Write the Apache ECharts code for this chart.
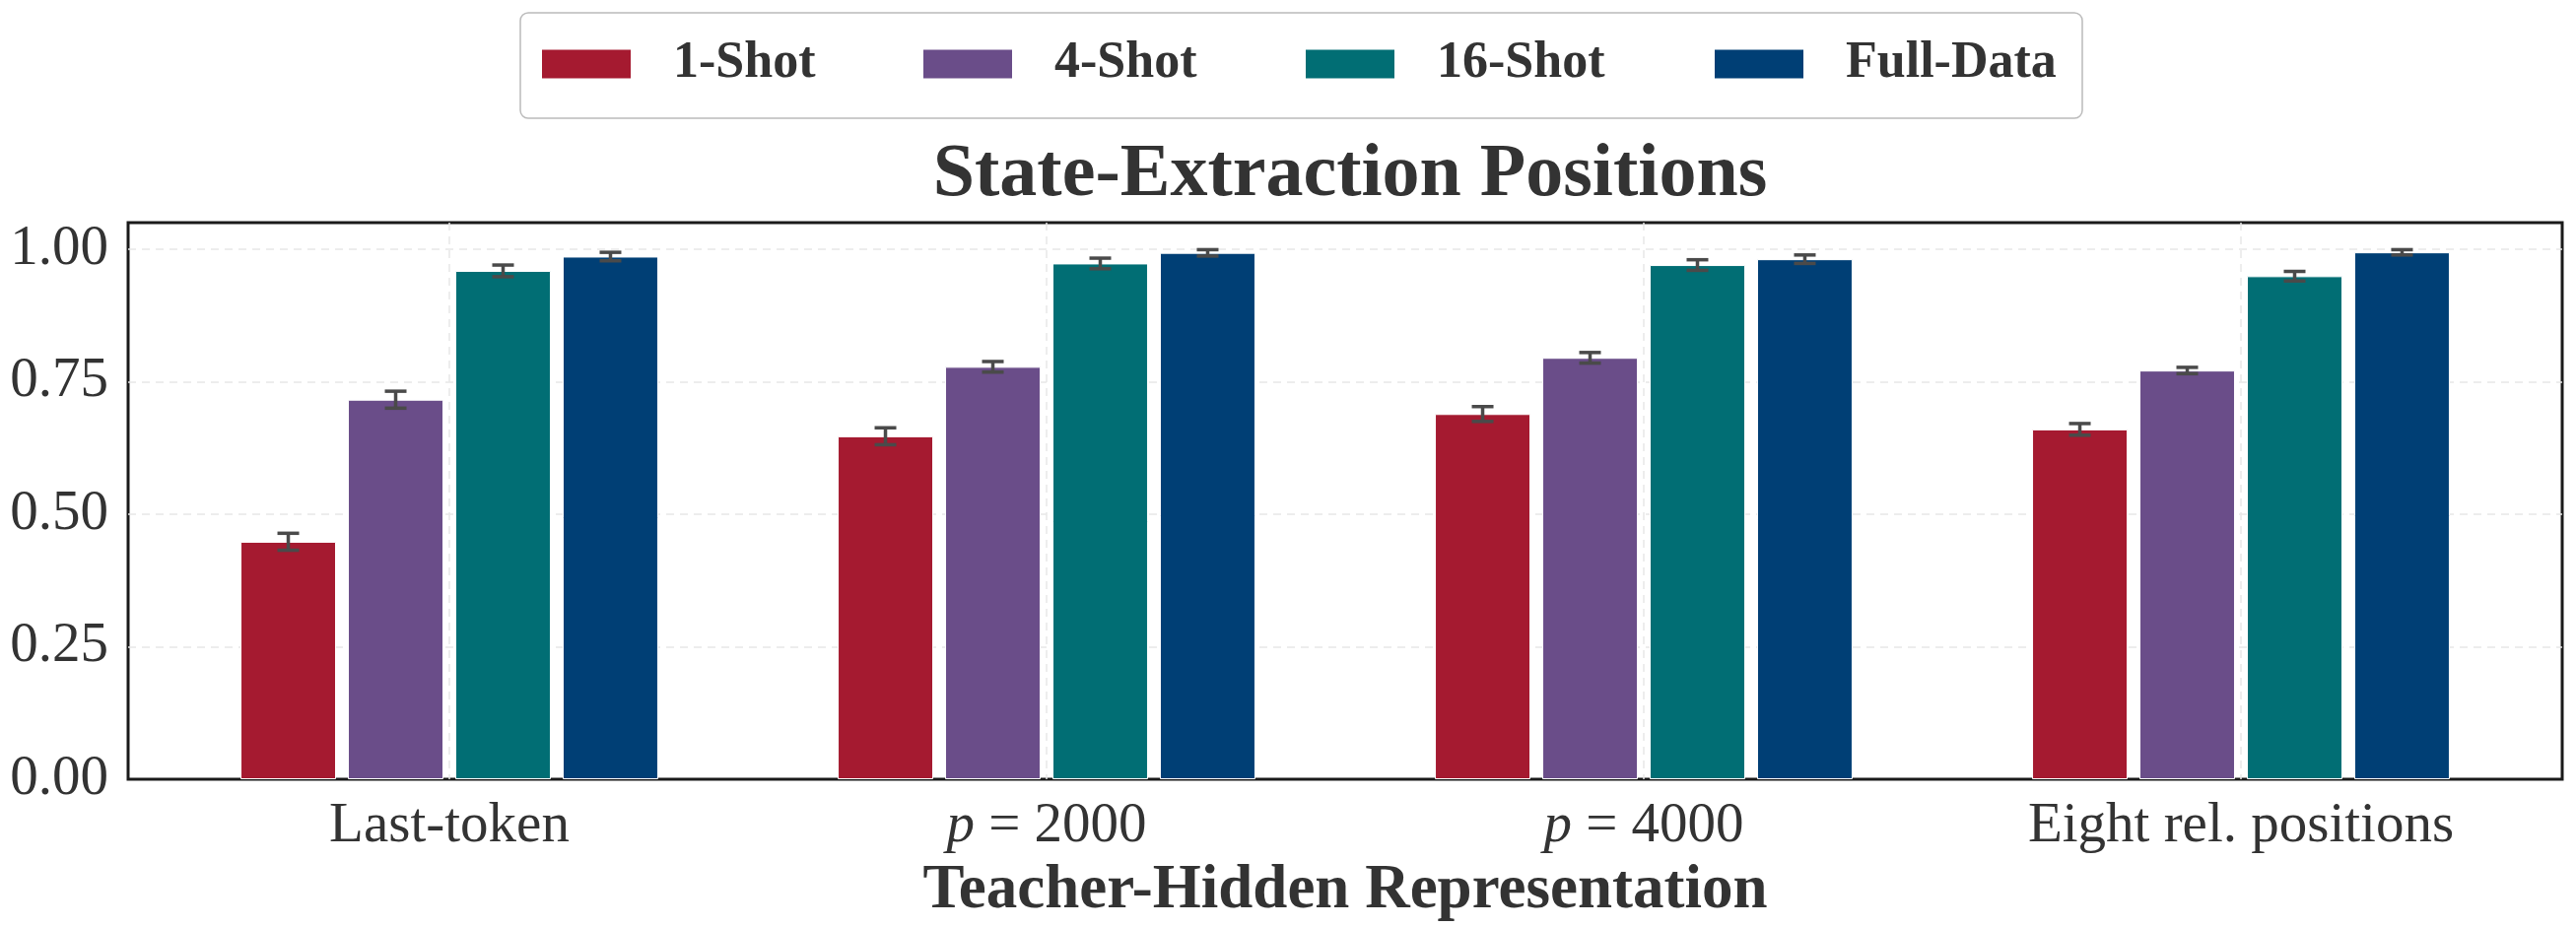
<!DOCTYPE html>
<html>
<head>
<meta charset="utf-8">
<script src="https://cdn.jsdelivr.net/npm/echarts@6/dist/echarts.min.js"></script>
<style>html,body{margin:0;padding:0;background:#fff;}#c{width:2614px;height:941px;}</style>
</head>
<body>
<div id="c"></div>
<script>
const categories = ['Last-token', 'p = 2000', 'p = 4000', 'Eight rel. positions'];
const seriesNames = ['1-Shot', '4-Shot', '16-Shot', 'Full-Data'];
const oneShot = [0.448, 0.647, 0.689, 0.660];
const oneShotErr = [0.016, 0.016, 0.014, 0.011];
const fourShot = [0.716, 0.778, 0.795, 0.771];
const fourShotErr = [0.016, 0.010, 0.010, 0.006];
const sixteenShot = [0.959, 0.973, 0.970, 0.949];
const sixteenShotErr = [0.011, 0.010, 0.010, 0.009];
const fullData = [0.986, 0.993, 0.981, 0.994];
const fullDataErr = [0.008, 0.006, 0.008, 0.005];
const yTicks = [0, 0.25, 0.5, 0.75, 1.0];

const values = [oneShot, fourShot, sixteenShot, fullData];
const errors = [oneShotErr, fourShotErr, sixteenShotErr, fullDataErr];
const colors = ['#A51A30', '#6A4D89', '#016E74', '#003F75'];
const FONT = '"Liberation Serif", "Times New Roman", serif';
const BAR_FRAC = 0.16, GAP_FRAC = 0.124;

const chart = echarts.init(document.getElementById('c'), null, {renderer: 'canvas'});

const barSeries = seriesNames.map((n, i) => ({
  name: n, type: 'bar', xAxisIndex: 0, yAxisIndex: 0,
  data: values[i],
  barWidth: (BAR_FRAC * 100) + '%', barGap: (GAP_FRAC * 100) + '%',
  itemStyle: {color: colors[i], borderColor: '#ffffff', borderWidth: 1},
  emphasis: {disabled: true}, z: 2
}));

const errSeries = seriesNames.map((n, si) => ({
  type: 'custom', xAxisIndex: 0, yAxisIndex: 0, z: 5, silent: true,
  data: values[si].map((v, i) => [i, v, errors[si][i]]),
  renderItem: function (params, api) {
    const x = api.value(0), y = api.value(1), e = api.value(2);
    const band = api.size([1, 0])[0];
    const bw = band * BAR_FRAC;
    const off = (si - 1.5) * bw * (1 + GAP_FRAC);
    const t = api.coord([x, y + e]);
    const b = api.coord([x, y - e]);
    const cx = t[0] + off;
    const hw = 11;
    const st = {stroke: '#4a4a4a', lineWidth: 3.5};
    return {type: 'group', children: [
      {type: 'line', shape: {x1: cx, y1: t[1], x2: cx, y2: b[1]}, style: st},
      {type: 'line', shape: {x1: cx - hw, y1: t[1], x2: cx + hw, y2: t[1]}, style: st},
      {type: 'line', shape: {x1: cx - hw, y1: b[1], x2: cx + hw, y2: b[1]}, style: st}
    ]};
  }
}));

const legendWidths = [153, 154, 181, 224];

chart.setOption({
  animation: false,
  backgroundColor: '#ffffff',
  title: {
    text: 'State-Extraction Positions', left: 1365, textAlign: 'center', top: 135,
    textStyle: {fontFamily: FONT, fontWeight: 'bold', fontSize: 76, color: '#333333'}
  },
  legend: {
    left: 528, top: 13, orient: 'horizontal',
    padding: [26, 16, 29, 20],
    itemWidth: 92, itemHeight: 31, itemGap: 99, icon: 'rect',
    borderColor: '#bbbbbb', borderWidth: 1.5, borderRadius: 8,
    data: seriesNames.map((n, i) => ({name: n, textStyle: {width: legendWidths[i]}})),
    textStyle: {fontFamily: FONT, fontWeight: 'bold', fontSize: 52, color: '#333333',
      padding: [0, 0, 0, 37], lineHeight: 31}
  },
  grid: [
    {left: 153, right: 37, top: 226, bottom: 150, show: false},
    {left: 130, right: 14, top: 226, bottom: 150, show: true, borderColor: '#1a1a1a', borderWidth: 3, backgroundColor: 'transparent'},
    {left: 456, right: 340, top: 226, bottom: 150, show: false}
  ],
  xAxis: [
    {type: 'category', gridIndex: 0, data: categories,
      axisLine: {show: false}, axisTick: {show: false}, splitLine: {show: false},
      axisLabel: {fontFamily: FONT, fontSize: 57, color: '#333333', margin: 20, lineHeight: 57,
        formatter: function (v) { return v.indexOf('p = ') === 0 ? '{i|p} = ' + v.slice(4) : v; },
        rich: {i: {fontFamily: FONT, fontStyle: 'italic', fontSize: 57, color: '#333333', lineHeight: 57}}},
      name: 'Teacher-Hidden Representation', nameLocation: 'middle', nameGap: 74,
      nameTextStyle: {fontFamily: FONT, fontWeight: 'bold', fontSize: 63, color: '#333333', lineHeight: 63}
    },
    {type: 'value', gridIndex: 1, show: false, min: 0, max: 1},
    {type: 'value', gridIndex: 2, min: 0, max: 3, interval: 1,
      axisLine: {show: false}, axisTick: {show: false}, axisLabel: {show: false},
      splitLine: {show: true, lineStyle: {color: '#e8e8e8', type: [8, 6], width: 1.5}}}
  ],
  yAxis: [
    {type: 'value', gridIndex: 0, min: 0, max: 1.05, show: false},
    {type: 'value', gridIndex: 1, min: 0, max: 1.05, interval: 0.25,
      axisLine: {show: false}, axisTick: {show: false},
      axisLabel: {fontFamily: FONT, fontSize: 57, color: '#333333', margin: 20, showMaxLabel: false,
        formatter: function (v) { return yTicks.some(t => Math.abs(t - v) < 1e-9) ? v.toFixed(2) : ''; }},
      splitLine: {show: true, showMinLine: false, showMaxLine: false,
        lineStyle: {color: '#e8e8e8', type: [8, 6], width: 1.5}}},
    {type: 'value', gridIndex: 2, min: 0, max: 1.05, show: false}
  ],
  series: barSeries.concat(errSeries)
});
</script>
</body>
</html>
